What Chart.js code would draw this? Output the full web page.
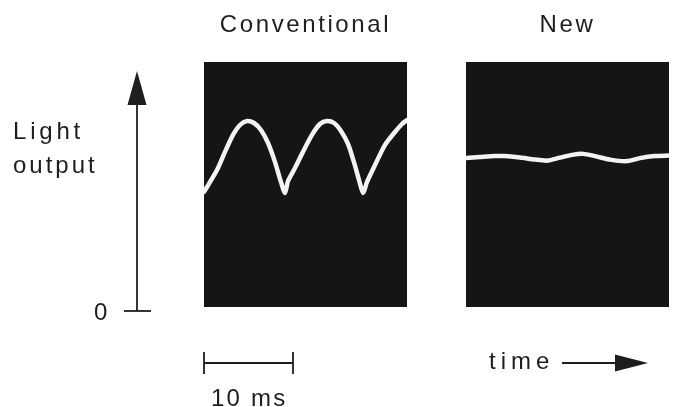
<!DOCTYPE html>
<html>
<head>
<meta charset="utf-8">
<script src="https://cdn.jsdelivr.net/npm/chart.js@4"></script>
<style>
  html, body { margin: 0; padding: 0; background: #fff; }
  #wrap { position: relative; width: 673px; height: 407px; overflow: hidden; }
  #wrap canvas { position: absolute; top: 0; }
</style>
</head>
<body>
<div id="wrap">
  <canvas id="conv" width="430" height="407" style="left:0"></canvas>
  <canvas id="neww" width="243" height="407" style="left:430px"></canvas>
</div>
<script>
// time in ms, light output in arbitrary units (0 = no light)
const timeConv  = [0, 1.46, 2.36, 3.26, 4.04, 4.83, 5.62, 6.40, 7.19, 7.98, 8.65, 9.10,
                   9.44, 10.22, 11.12, 12.13, 13.03, 13.82, 14.61, 15.39, 16.18, 16.85, 17.42, 17.87,
                   18.31, 19.21, 20.34, 21.46, 22.25, 22.81];
const lightConv = [47.8, 56.6, 63.9, 70.7, 74.7, 76.3, 75.5, 72.7, 67.5, 59.8, 51.8, 47.4,
                   52.2, 57.4, 63.9, 70.7, 75.1, 76.3, 75.5, 72.3, 67.1, 59.8, 52.6, 47.4,
                   51.8, 58.6, 66.7, 71.9, 75.1, 76.7];
const timeNew   = [0, 1.57, 3.26, 4.38, 6.07, 7.75, 9.10, 10.56, 11.91, 13.15, 14.49, 16.18,
                   18.09, 19.55, 21.24, 22.81];
const lightNew  = [61.4, 61.8, 62.2, 62.2, 61.6, 60.8, 60.4, 61.6, 62.7, 63.1, 62.2, 60.8,
                   60.2, 61.4, 62.2, 62.4];
const titles = ['Conventional', 'New'];
const yLabel = ['Light', 'output'];
const zeroLabel = '0';
const scaleBarMs = 10;
const scaleBarLabel = '10 ms';
const timeLabel = 'time';
const xMaxMs = 22.81;
const yMin = 1.6, yMax = 100;

const FONT = "'Liberation Sans', Arial, Helvetica, sans-serif";
const INK = '#1e1e1e';

const toPoints = (xs, ys) => xs.map((x, i) => ({x, y: ys[i]}));

// dark oscilloscope screen behind the trace + tracked lettering
const screen = {
  id: 'screen',
  beforeDraw(chart) {
    chart.ctx.letterSpacing = '2.6px';
  },
  beforeDatasetsDraw(chart) {
    const {ctx, chartArea: a} = chart;
    ctx.save();
    ctx.fillStyle = '#151515';
    ctx.fillRect(a.left, a.top, a.right - a.left, a.bottom - a.top);
    ctx.restore();
  }
};

function arrowHead(ctx, tipX, tipY, dx, dy, len, half) {
  // dx,dy: unit direction the arrow points to
  const bx = tipX - dx * len, by = tipY - dy * len;
  ctx.beginPath();
  ctx.moveTo(tipX, tipY);
  ctx.lineTo(bx - dy * half, by + dx * half);
  ctx.lineTo(bx + dy * half, by - dx * half);
  ctx.closePath();
  ctx.fill();
}

function label(ctx, text, x, y, spacing) {
  ctx.letterSpacing = spacing + 'px';
  ctx.fillText(text, x, y);
}

const convDecor = {
  id: 'convDecor',
  afterDraw(chart) {
    const {ctx, chartArea: a} = chart;
    const ys = chart.scales.y, xs = chart.scales.x;
    ctx.save();
    ctx.strokeStyle = INK;
    ctx.fillStyle = INK;
    ctx.lineWidth = 1.8;
    ctx.font = '24px ' + FONT;

    // light output axis
    const ax = 137, y0 = ys.getPixelForValue(0), tip = a.top + 9;
    ctx.beginPath();
    ctx.moveTo(ax, y0);
    ctx.lineTo(ax, tip + 30);
    ctx.stroke();
    arrowHead(ctx, ax, tip, 0, -1, 34, 9.5);
    ctx.beginPath();
    ctx.moveTo(ax - 13, y0);
    ctx.lineTo(ax + 14, y0);
    ctx.stroke();

    ctx.textAlign = 'left';
    ctx.textBaseline = 'alphabetic';
    label(ctx, zeroLabel, 94, y0 + 9, 0);
    label(ctx, yLabel[0], 13, 139, 3.8);
    label(ctx, yLabel[1], 13, 173, 3);

    // 10 ms scale bar
    const x1 = xs.getPixelForValue(0), x2 = xs.getPixelForValue(scaleBarMs), yb = 363;
    ctx.beginPath();
    ctx.moveTo(x1, yb); ctx.lineTo(x2, yb);
    ctx.moveTo(x1, yb - 11); ctx.lineTo(x1, yb + 11);
    ctx.moveTo(x2, yb - 11); ctx.lineTo(x2, yb + 11);
    ctx.stroke();
    label(ctx, scaleBarLabel, x1 + 7, 406, 2.2);
    ctx.restore();
  }
};

const newDecor = {
  id: 'newDecor',
  afterDraw(chart) {
    const {ctx} = chart;
    ctx.save();
    ctx.strokeStyle = INK;
    ctx.fillStyle = INK;
    ctx.lineWidth = 1.8;
    ctx.font = '24px ' + FONT;
    ctx.textAlign = 'left';
    ctx.textBaseline = 'alphabetic';
    // canvas starts at page x = 430
    label(ctx, timeLabel, 489 - 430, 369, 5);
    ctx.beginPath();
    ctx.moveTo(562 - 430, 363);
    ctx.lineTo(620 - 430, 363);
    ctx.stroke();
    arrowHead(ctx, 648 - 430, 363, 1, 0, 33, 8.5);
    ctx.restore();
  }
};

function panel(id, title, xs, ys, padLeft, padRight, extra) {
  return new Chart(document.getElementById(id), {
    type: 'line',
    data: {
      datasets: [{
        data: toPoints(xs, ys),
        borderColor: '#f3f3f3',
        borderWidth: 4.5,
        pointRadius: 0,
        tension: 0.25,
        borderCapStyle: 'round',
        borderJoinStyle: 'round'
      }]
    },
    options: {
      responsive: false,
      animation: false,
      events: [],
      layout: {padding: {left: padLeft, right: padRight, top: 0, bottom: 100}},
      scales: {
        x: {type: 'linear', display: false, min: 0, max: xMaxMs},
        y: {display: false, min: yMin, max: yMax}
      },
      plugins: {
        legend: {display: false},
        tooltip: {enabled: false},
        title: {
          display: true,
          text: title,
          fullSize: false,
          color: INK,
          font: {family: FONT, size: 24, weight: 'normal', lineHeight: 1.2},
          padding: {top: 11, bottom: 22.2}
        }
      }
    },
    plugins: [screen, extra]
  });
}

panel('conv', titles[0], timeConv, lightConv, 204, 23, convDecor);
panel('neww', titles[1], timeNew, lightNew, 36, 4, newDecor);
</script>
</body>
</html>
